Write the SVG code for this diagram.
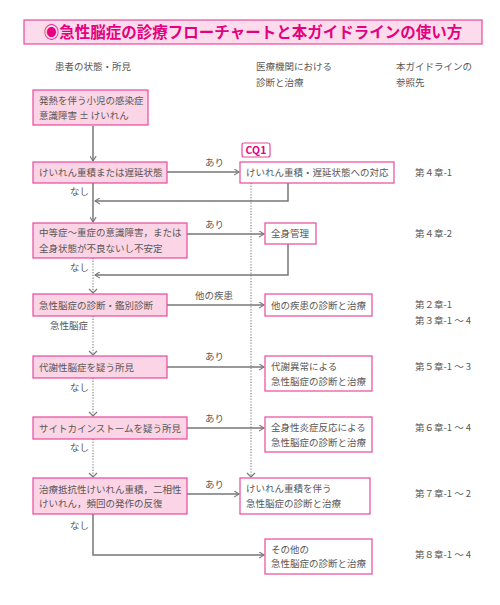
<svg xmlns="http://www.w3.org/2000/svg" width="500" height="605" viewBox="0 0 500 605">
<style>
text{font-family:"Noto Sans CJK JP","Noto Sans",sans-serif;font-size:9.5px;fill:#595757}
.t{font-size:15.5px;font-weight:bold;fill:#e4007f}
.cq{font-size:10.5px;font-weight:bold;fill:#e4007f}
.pk{fill:#fbd4e5;stroke:#e9499c;stroke-width:1.2}
.wh{fill:#fff;stroke:#e9499c;stroke-width:1.2}
.ln{fill:none;stroke:#777;stroke-width:1.5}
.dt{fill:none;stroke:#777;stroke-width:1.1;stroke-dasharray:1.2 1.6}
</style>
<defs>
<marker id="a" viewBox="0 0 10 10" refX="9" refY="5" markerWidth="7" markerHeight="7" markerUnits="userSpaceOnUse" orient="auto">
<path d="M2,0.5 L9,5 L2,9.5" fill="none" stroke="#777" stroke-width="1.6"/>
</marker>
</defs>
<rect width="500" height="605" fill="#fff"/>
<g id="title">
<rect x="24" y="20" width="458" height="24" fill="#fcdcec" stroke="#e9499c" stroke-width="1.2"/>
<text class="t" x="253" y="38" text-anchor="middle">◉急性脳症の診療フローチャートと本ガイドラインの使い方</text>
</g>
<g id="headers">
<text x="55" y="70">患者の状態・所見</text>
<text x="256" y="70">医療機関における</text>
<text x="256" y="86">診断と治療</text>
<text x="396" y="70">本ガイドラインの</text>
<text x="396" y="86">参照先</text>
</g>
<g id="connectors">
<path class="ln" d="M93,126 V161" marker-end="url(#a)"/>
<path class="ln" d="M167,172 H239" marker-end="url(#a)"/>
<path class="ln" d="M288,183 V201 H95" marker-end="url(#a)"/>
<path class="ln" d="M93,183 V222" marker-end="url(#a)"/>
<path class="ln" d="M187,234 H264" marker-end="url(#a)"/>
<path class="ln" d="M288,244 V275 H95" marker-end="url(#a)"/>
<path class="dt" d="M93,258 V293"/>
<path class="ln" d="M89,289 L93,293 L97,289" style="stroke-width:1.2"/>
<path class="ln" d="M167,305 H264" marker-end="url(#a)"/>
<path class="dt" d="M93,316 V355"/>
<path class="ln" d="M89,351 L93,355 L97,351" style="stroke-width:1.2"/>
<path class="ln" d="M167,367 H264" marker-end="url(#a)"/>
<path class="dt" d="M93,378 V416"/>
<path class="ln" d="M89,412 L93,416 L97,412" style="stroke-width:1.2"/>
<path class="ln" d="M187,428 H264" marker-end="url(#a)"/>
<path class="dt" d="M93,439 V477"/>
<path class="ln" d="M89,473 L93,477 L97,473" style="stroke-width:1.2"/>
<path class="ln" d="M187,494 H239" marker-end="url(#a)"/>
<path class="dt" d="M251,183 V477"/>
<path class="ln" d="M247,473 L251,477 L255,473" style="stroke-width:1.2"/>
<path class="ln" d="M93,514 V555 H264" marker-end="url(#a)"/>
</g>
<g id="labels">
<text x="205" y="166">あり</text>
<text x="70" y="195">なし</text>
<text x="205" y="228">あり</text>
<text x="70" y="271">なし</text>
<text x="195" y="299">他の疾患</text>
<text x="50" y="328.5">急性脳症</text>
<text x="205" y="360">あり</text>
<text x="70" y="390.5">なし</text>
<text x="205" y="422">あり</text>
<text x="70" y="450.5">なし</text>
<text x="205" y="488">あり</text>
<text x="70" y="528.5">なし</text>
</g>
<g id="n1"><rect class="pk" x="33" y="90" width="115" height="35"/>
<text x="39" y="103.5">発熱を伴う小児の感染症</text><text x="39" y="118.5">意識障害 ± けいれん</text></g>
<g id="n2"><rect class="pk" x="33" y="162" width="134" height="21"/>
<text x="39" y="175.5">けいれん重積または遅延状態</text></g>
<g id="cq1"><rect class="wh" x="242" y="143" width="28" height="14" rx="2"/>
<text class="cq" x="256" y="154" text-anchor="middle">CQ1</text></g>
<g id="n2r"><rect class="wh" x="240" y="162" width="154" height="21"/>
<text x="246" y="175.5">けいれん重積・遅延状態への対応</text></g>
<g id="n3"><rect class="pk" x="33" y="223" width="154" height="35"/>
<text x="39" y="235.5">中等症～重症の意識障害，または</text><text x="39" y="251.5">全身状態が不良ないし不安定</text></g>
<g id="n3r"><rect class="wh" x="265" y="223" width="51" height="21"/>
<text x="271" y="237">全身管理</text></g>
<g id="n4"><rect class="pk" x="33" y="294" width="134" height="22"/>
<text x="39" y="308.5">急性脳症の診断・鑑別診断</text></g>
<g id="n4r"><rect class="wh" x="265" y="294" width="107" height="22"/>
<text x="271" y="308.5">他の疾患の診断と治療</text></g>
<g id="n5"><rect class="pk" x="33" y="356" width="134" height="22"/>
<text x="39" y="370.5">代謝性脳症を疑う所見</text></g>
<g id="n5r"><rect class="wh" x="265" y="356" width="107" height="35"/>
<text x="271" y="369.5">代謝異常による</text><text x="271" y="384.5">急性脳症の診断と治療</text></g>
<g id="n6"><rect class="pk" x="33" y="417" width="154" height="22"/>
<text x="39" y="431.5">サイトカインストームを疑う所見</text></g>
<g id="n6r"><rect class="wh" x="265" y="417" width="107" height="35"/>
<text x="271" y="430.5">全身性炎症反応による</text><text x="271" y="445.5">急性脳症の診断と治療</text></g>
<g id="n7"><rect class="pk" x="33" y="478" width="154" height="36"/>
<text x="39" y="492.5">治療抵抗性けいれん重積，二相性</text><text x="39" y="506.5">けいれん，頻回の発作の反復</text></g>
<g id="n7r"><rect class="wh" x="240" y="478" width="130" height="36"/>
<text x="246" y="491.5">けいれん重積を伴う</text><text x="246" y="506.5">急性脳症の診断と治療</text></g>
<g id="n8"><rect class="wh" x="265" y="539" width="107" height="35"/>
<text x="271" y="552.5">その他の</text><text x="271" y="567">急性脳症の診断と治療</text></g>
<g id="refs">
<text x="415" y="175.5">第４章-1</text>
<text x="415" y="237">第４章-2</text>
<text x="415" y="307.5">第２章-1</text>
<text x="415" y="323.5">第３章-1 ～ 4</text>
<text x="415" y="369.5">第５章-1 ～ 3</text>
<text x="415" y="430.5">第６章-1 ～ 4</text>
<text x="415" y="496.5">第７章-1 ～ 2</text>
<text x="415" y="557.5">第８章-1 ～ 4</text>
</g>
</svg>
